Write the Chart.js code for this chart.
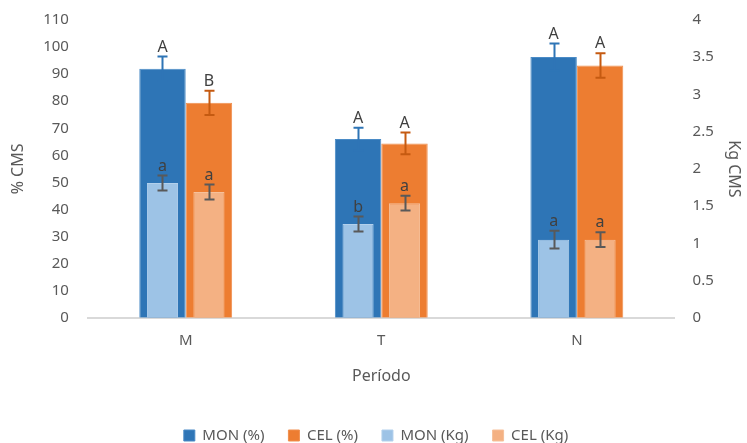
<!DOCTYPE html>
<html>
<head>
<meta charset="utf-8">
<script src="https://cdn.jsdelivr.net/npm/chart.js@4"></script>
<style>
  html, body { margin: 0; padding: 0; background: #fff; }
  #wrap { width: 747px; height: 443px; }
</style>
</head>
<body>
<div id="wrap"><canvas id="chart"></canvas></div>
<script>
// datos
const categories = ["M", "T", "N"];
const monPct = [92, 66, 96.3];
const celPct = [79.4, 64.4, 93.2];
const monKg = [1.81, 1.26, 1.05];
const celKg = [1.69, 1.54, 1.05];

const monPctErr = [4.5, 4.2, 5];
const celPctErr = [4.5, 4, 4.5];
const monKgErr = [0.1, 0.1, 0.12];
const celKgErr = [0.1, 0.1, 0.1];

const monPctLetters = ["A", "A", "A"];
const celPctLetters = ["B", "A", "A"];
const monKgLetters = ["a", "b", "a"];
const celKgLetters = ["a", "a", "a"];

const leftTicks = [0, 10, 20, 30, 40, 50, 60, 70, 80, 90, 100, 110];
const rightTicks = [0, 0.5, 1, 1.5, 2, 2.5, 3, 3.5, 4];

const FONT = "'Noto Sans', sans-serif";

// barras de error + letras
const errorBars = {
  id: "errorBars",
  afterDatasetsDraw(chart) {
    const ctx = chart.ctx;
    chart.data.datasets.forEach((ds, i) => {
      const meta = chart.getDatasetMeta(i);
      const yScale = chart.scales[ds.yAxisID];
      meta.data.forEach((bar, j) => {
        const v = ds.data[j];
        const e = ds.errors[j];
        const yTop = yScale.getPixelForValue(v + e);
        const yBot = yScale.getPixelForValue(v - e);
        const x = Math.round(bar.x) + 0.5;
        ctx.save();
        ctx.strokeStyle = ds.errColor;
        ctx.lineWidth = 2;
        ctx.beginPath();
        ctx.moveTo(x, yTop);
        ctx.lineTo(x, yBot);
        ctx.moveTo(x - 5, yTop);
        ctx.lineTo(x + 5, yTop);
        ctx.moveTo(x - 5, yBot);
        ctx.lineTo(x + 5, yBot);
        ctx.stroke();
        ctx.fillStyle = "#404040";
        ctx.font = "16px " + FONT;
        ctx.textAlign = "center";
        ctx.textBaseline = "alphabetic";
        ctx.fillText(ds.letters[j], bar.x, yTop - 5);
        ctx.restore();
      });
    });
  }
};

new Chart(document.getElementById("chart"), {
  type: "bar",
  data: {
    labels: categories,
    datasets: [
      {
        label: "MON (%)", data: monPct, errors: monPctErr, letters: monPctLetters,
        backgroundColor: "#2E75B6", borderColor: "#4a8bc6", borderWidth: 1,
        errColor: "#2E75B6", stack: "mon", yAxisID: "y", order: 2,
        barPercentage: 1, categoryPercentage: 0.475
      },
      {
        label: "CEL (%)", data: celPct, errors: celPctErr, letters: celPctLetters,
        backgroundColor: "#ED7D31", borderColor: "#f08f4e", borderWidth: 1,
        errColor: "#C55A11", stack: "cel", yAxisID: "y", order: 3,
        barPercentage: 1, categoryPercentage: 0.475
      },
      {
        label: "MON (Kg)", data: monKg, errors: monKgErr, letters: monKgLetters,
        backgroundColor: "#9DC3E6", borderColor: "#b2d0ec", borderWidth: 1,
        errColor: "#595959", stack: "mon", yAxisID: "y1", order: 0,
        barPercentage: 0.67, categoryPercentage: 0.475
      },
      {
        label: "CEL (Kg)", data: celKg, errors: celKgErr, letters: celKgLetters,
        backgroundColor: "#F4B183", borderColor: "#f6c09a", borderWidth: 1,
        errColor: "#595959", stack: "cel", yAxisID: "y1", order: 1,
        barPercentage: 0.67, categoryPercentage: 0.475
      }
    ]
  },
  options: {
    responsive: true,
    maintainAspectRatio: false,
    animation: false,
    layout: { padding: { top: 17, left: 5, right: 0, bottom: -10 } },
    scales: {
      x: {
        stacked: true,
        grid: { display: false },
        border: { display: true, color: "#d9d9d9", width: 2 },
        ticks: { color: "#595959", font: { family: FONT, size: 15 }, padding: 6 },
        title: { display: true, text: "Período", color: "#595959", font: { family: FONT, size: 16 }, padding: { top: 11, bottom: 18 } }
      },
      y: {
        position: "left",
        stacked: false,
        min: 0, max: 110,
        afterBuildTicks: (s) => { s.ticks = leftTicks.map(v => ({ value: v })); },
        grid: { display: false },
        border: { display: false },
        ticks: { color: "#595959", font: { family: FONT, size: 15 }, padding: 11 },
        title: { display: true, text: "% CMS", color: "#595959", font: { family: FONT, size: 16 } }
      },
      y1: {
        position: "right",
        stacked: false,
        min: 0, max: 4,
        afterBuildTicks: (s) => { s.ticks = rightTicks.map(v => ({ value: v })); },
        grid: { display: false },
        border: { display: false },
        ticks: { color: "#595959", font: { family: FONT, size: 15 }, padding: 10, callback: (v) => String(v) },
        title: { display: true, text: "Kg CMS", color: "#595959", font: { family: FONT, size: 16 }, padding: { top: 4, bottom: 0 } }
      }
    },
    plugins: {
      legend: {
        position: "bottom",
        labels: {
          color: "#595959",
          font: { family: FONT, size: 15 },
          boxWidth: 11, boxHeight: 11, padding: 24,
          sort: (a, b) => a.datasetIndex - b.datasetIndex
        }
      },
      tooltip: { enabled: false }
    }
  },
  plugins: [errorBars]
});
</script>
</body>
</html>
